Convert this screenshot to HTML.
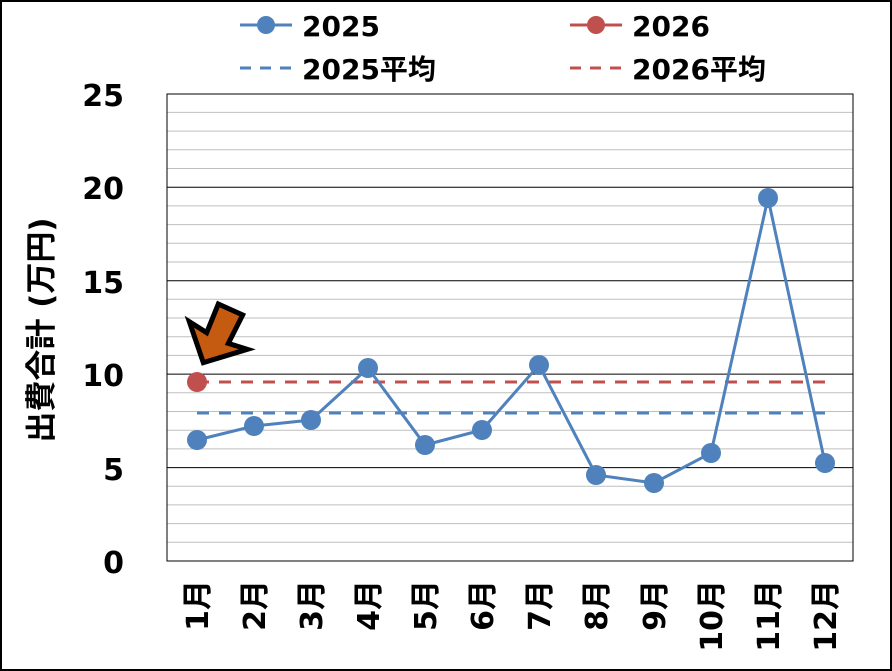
<!DOCTYPE html>
<html><head><meta charset="utf-8"><style>
body{margin:0;background:#fff}
svg{display:block}
text{font-family:"DejaVu Sans","Noto Sans CJK JP",sans-serif;font-weight:bold;fill:#000}
</style></head><body>
<svg width="892" height="671" viewBox="0 0 892 671">
<rect x="1" y="1" width="890" height="669" fill="#fff" stroke="#000" stroke-width="2"/>
<g stroke="#bfbfbf" stroke-width="1">
<line x1="167" x2="853" y1="542.3" y2="542.3"/><line x1="167" x2="853" y1="523.6" y2="523.6"/><line x1="167" x2="853" y1="504.9" y2="504.9"/><line x1="167" x2="853" y1="486.2" y2="486.2"/>
<line x1="167" x2="853" y1="448.9" y2="448.9"/><line x1="167" x2="853" y1="430.2" y2="430.2"/><line x1="167" x2="853" y1="411.5" y2="411.5"/><line x1="167" x2="853" y1="392.8" y2="392.8"/>
<line x1="167" x2="853" y1="355.4" y2="355.4"/><line x1="167" x2="853" y1="336.7" y2="336.7"/><line x1="167" x2="853" y1="318" y2="318"/><line x1="167" x2="853" y1="299.3" y2="299.3"/>
<line x1="167" x2="853" y1="262" y2="262"/><line x1="167" x2="853" y1="243.3" y2="243.3"/><line x1="167" x2="853" y1="224.6" y2="224.6"/><line x1="167" x2="853" y1="205.9" y2="205.9"/>
<line x1="167" x2="853" y1="168.5" y2="168.5"/><line x1="167" x2="853" y1="149.8" y2="149.8"/><line x1="167" x2="853" y1="131.1" y2="131.1"/><line x1="167" x2="853" y1="112.4" y2="112.4"/>
</g>
<g stroke="#000" stroke-width="1">
<line x1="167" x2="853" y1="467.6" y2="467.6"/><line x1="167" x2="853" y1="374.1" y2="374.1"/><line x1="167" x2="853" y1="280.7" y2="280.7"/><line x1="167" x2="853" y1="187.2" y2="187.2"/>
</g>
<rect x="167" y="94" width="686" height="467" fill="none" stroke="#000" stroke-width="1"/>
<line x1="197" x2="825" y1="413" y2="413" stroke="#4f81bd" stroke-width="3" stroke-dasharray="12,10"/>
<line x1="197" x2="825" y1="382" y2="382" stroke="#c0504d" stroke-width="3" stroke-dasharray="12,10"/>
<polyline fill="none" stroke="#4f81bd" stroke-width="3" points="197,440 254,426 311,420 368,368 425,445 482,430 539,365 596,475 654,483 711,453 768,198 825,463"/>
<g fill="#4f81bd">
<circle cx="197" cy="440" r="10"/><circle cx="254" cy="426" r="10"/><circle cx="311" cy="420" r="10"/><circle cx="368" cy="368" r="10"/><circle cx="425" cy="445" r="10"/><circle cx="482" cy="430" r="10"/><circle cx="539" cy="365" r="10"/><circle cx="596" cy="475" r="10"/><circle cx="654" cy="483" r="10"/><circle cx="711" cy="453" r="10"/><circle cx="768" cy="198" r="10"/><circle cx="825" cy="463" r="10"/>
</g>
<circle cx="197" cy="382" r="10" fill="#c0504d"/>
<g transform="translate(160,290) scale(0.3333)">
<polygon points="175,42 248,75 205,160 262,178 130,218 88,95 140,128" fill="#c55a11" stroke="#000" stroke-width="15" stroke-linejoin="miter"/>
</g>
<g font-size="30" text-anchor="end">
<text x="124" y="106">25</text><text x="124" y="199">20</text><text x="124" y="293">15</text><text x="124" y="386">10</text><text x="124" y="480">5</text><text x="124" y="573">0</text>
</g>
<text transform="translate(52,330) rotate(-90)" font-size="31" text-anchor="middle">出費合計 (万円)</text>
<g font-size="30">
<text transform="translate(208,580) rotate(-90)" text-anchor="end">1月</text>
<text transform="translate(265,580) rotate(-90)" text-anchor="end">2月</text>
<text transform="translate(322,580) rotate(-90)" text-anchor="end">3月</text>
<text transform="translate(379,580) rotate(-90)" text-anchor="end">4月</text>
<text transform="translate(436,580) rotate(-90)" text-anchor="end">5月</text>
<text transform="translate(493,580) rotate(-90)" text-anchor="end">6月</text>
<text transform="translate(550,580) rotate(-90)" text-anchor="end">7月</text>
<text transform="translate(607,580) rotate(-90)" text-anchor="end">8月</text>
<text transform="translate(665,580) rotate(-90)" text-anchor="end">9月</text>
<text transform="translate(722,580) rotate(-90)" text-anchor="end">10月</text>
<text transform="translate(779,580) rotate(-90)" text-anchor="end">11月</text>
<text transform="translate(836,580) rotate(-90)" text-anchor="end">12月</text>
</g>
<line x1="240" x2="292" y1="25" y2="25" stroke="#4f81bd" stroke-width="3"/><circle cx="266" cy="25" r="9" fill="#4f81bd"/>
<text x="302" y="36" font-size="28">2025</text>
<line x1="570" x2="622" y1="25" y2="25" stroke="#c0504d" stroke-width="3"/><circle cx="596" cy="25" r="9" fill="#c0504d"/>
<text x="632" y="36" font-size="28">2026</text>
<line x1="240" x2="292" y1="68" y2="68" stroke="#4f81bd" stroke-width="3" stroke-dasharray="11,9"/>
<text x="302" y="79" font-size="28">2025平均</text>
<line x1="570" x2="622" y1="68" y2="68" stroke="#c0504d" stroke-width="3" stroke-dasharray="11,9"/>
<text x="632" y="79" font-size="28">2026平均</text>
</svg>
</body></html>
